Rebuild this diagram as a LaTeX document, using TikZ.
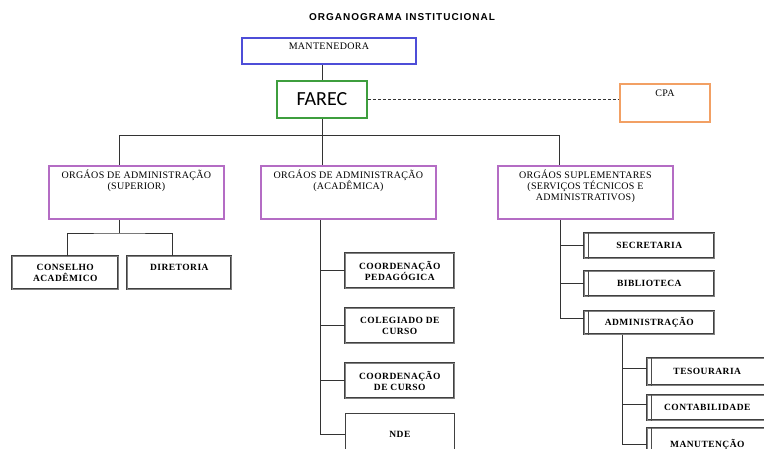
\documentclass[tikz,border=0pt]{standalone}
\usepackage{fontspec}
\setmainfont{Liberation Serif}
\newfontfamily\boxfont[LetterSpace=3]{Liberation Serif}
\newfontfamily\unitfont[LetterSpace=5]{Liberation Serif}
\newfontfamily\titlefont[LetterSpace=10]{Liberation Sans}
\newfontfamily\farecfont{Carlito}
\usetikzlibrary{positioning}
\definecolor{orgblue}{HTML}{4E4ED8}
\definecolor{orggreen}{HTML}{3E9E3E}
\definecolor{orgorange}{HTML}{F2A064}
\definecolor{orgpurple}{HTML}{B46CC4}

\begin{document}
\begin{tikzpicture}[x=1pt, y=-1pt,
            box/.style = {draw, fill=white, line width=1.8pt, anchor=north west, inner sep=0pt},
            head/.style = {box, draw=orgpurple, minimum width=175pt, minimum height=53pt},
            unit/.style = {anchor=north west, fill=white, draw=black!75, line width=0.6pt,
                double=black!50, double distance=1.1pt, align=center, inner sep=1pt,
                font=\unitfont\bfseries\fontsize{9.5}{11.5}\selectfont},
            lbl/.style = {align=center, inner sep=0pt, font=\boxfont\fontsize{10}{11}\selectfont},
            conn/.style = {draw=black!80, line width=0.8pt}]
    \clip (0,0) rectangle (764,448);
    \fill[white] (0,0) rectangle (764,448);
    \node[font=\titlefont\bfseries\fontsize{10}{12}\selectfont] (title) at (402,17) {ORGANOGRAMA INSTITUCIONAL};

    \node[box, draw=orgblue, minimum width=174pt, minimum height=26pt] (mant) at (241,37) {};
    \node[lbl, below=6pt of mant.north] (mant-t) {MANTENEDORA};
    \node[box, draw=orggreen, minimum width=90pt, minimum height=37pt,
        font=\farecfont\fontsize{20}{22}\selectfont] (farec) at (276,80) {FAREC\hspace{6pt}};
    \node[box, draw=orgorange, minimum width=90pt, minimum height=38pt] (cpa) at (619,83) {};
    \node[lbl, below=7pt of cpa.north] (cpa-t) {CPA};

    \node[head] (sup) at (48,165) {};
    \node[lbl, below=5pt of sup.north] (sup-t) {ORGÁOS DE ADMINISTRAÇÃO\\(SUPERIOR)};
    \node[head] (acad) at (260,165) {};
    \node[lbl, below=5pt of acad.north] (acad-t) {ORGÁOS DE ADMINISTRAÇÃO\\(ACADÊMICA)};
    \node[head] (supl) at (497,165) {};
    \node[lbl, below=5pt of supl.north] (supl-t) {ORGÁOS SUPLEMENTARES\\(SERVIÇOS TÉCNICOS E\\ADMINISTRATIVOS)};

    \node[unit, minimum width=106pt, minimum height=33pt] (cons) at (12,256) {CONSELHO\\ACADÊMICO};
    \node[unit, minimum width=104pt, minimum height=33pt] (dir) at (127,256) {DIRETORIA\\~};

    \tikzset{unit/.append style = {minimum width=109pt, minimum height=35pt}}
    \node[unit] (cped) at (345,253) {COORDENAÇÃO\\PEDAGÓGICA};
    \node[unit] (coleg) at (345,308) {COLEGIADO DE\\CURSO};
    \node[unit] (ccur) at (345,363) {COORDENAÇÃO\\DE CURSO};
    \node[unit, double=none, line width=0.8pt, minimum height=42pt] (nde) at (345,413) {NDE};

    \tikzset{unit/.append style = {minimum width=130pt, minimum height=25pt}}
    \node[unit] (sec) at (584,233) {SECRETARIA};
    \node[unit] (bib) at (584,271) {BIBLIOTECA};
    \node[unit, minimum height=23pt] (adm) at (584,311) {ADMINISTRAÇÃO};
    \tikzset{unit/.append style = {minimum width=120pt}}
    \node[unit, minimum height=27pt] (tes) at (647,358) {TESOURARIA};
    \node[unit] (cont) at (647,395) {CONTABILIDADE};
    \node[unit, minimum height=32pt] (man) at (647,428) {MANUTENÇÃO};
    \foreach \n in {sec,bib,adm,tes,cont,man}
        \draw[black!70, line width=0.6pt] ([xshift=4pt]\n.north west) -- ([xshift=4pt]\n.south west);

    \coordinate (busl) at (119,135);
    \coordinate (busr) at (559,135);
    \draw[conn] (farec.north) -- (farec.north |- mant.south);
    \draw[conn, dash pattern=on 3pt off 2pt] (farec.east) -- (farec.east -| cpa.west);
    \draw[conn] (farec.south) -- (farec.south |- busl);
    \draw[conn] (busl) -- (busr);
    \draw[conn] (busl) -- (busl |- sup.north);
    \draw[conn] (farec.south |- busl) -- (farec.south |- acad.north);
    \draw[conn] (busr) -- (busr |- supl.north);

    \coordinate (lsplit) at (119,233);
    \draw[conn] (sup.south -| lsplit) -- (lsplit);
    \draw[conn] ([xshift=2pt]cons.north) |- (lsplit) -| ([xshift=-7pt]dir.north);

    \coordinate (mtrunk) at (320,0);
    \draw[conn] (acad.south -| mtrunk) |- (nde.west);
    \foreach \n in {cped,coleg,ccur}
        \draw[conn] (\n.west) -- (\n.west -| mtrunk);

    \coordinate (rtrunk) at (560,0);
    \draw[conn] (supl.south -| rtrunk) |- ([yshift=4pt]adm.west);
    \foreach \n in {sec,bib}
        \draw[conn] (\n.west) -- (\n.west -| rtrunk);

    \coordinate (atrunk) at (622,0);
    \draw[conn] (adm.south -| atrunk) |- (man.west);
    \foreach \n in {tes,cont}
        \draw[conn] ([yshift=3pt]\n.west) -- ([yshift=3pt]\n.west -| atrunk);
\end{tikzpicture}
\end{document}
